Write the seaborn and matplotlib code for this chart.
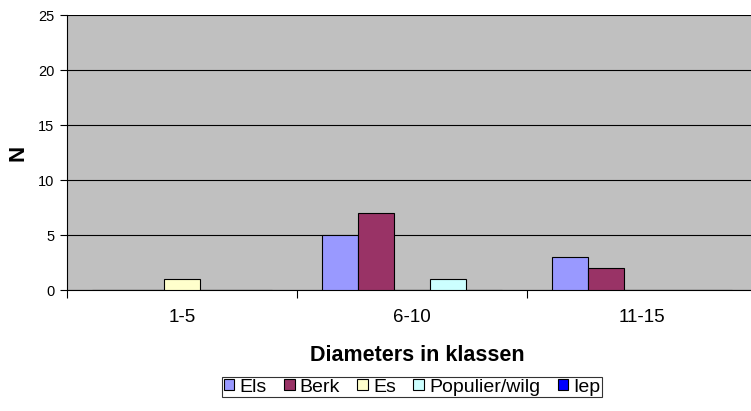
import matplotlib
matplotlib.use("Agg")
import matplotlib.pyplot as plt
import seaborn as sns
import pandas as pd
from matplotlib.patches import Patch
from matplotlib.ticker import FixedLocator, NullFormatter

# Diameter classes and counts per tree species
classes = ["1-5", "6-10", "11-15"]
species = ["Els", "Berk", "Es", "Populier/wilg", "Iep"]
els = [0, 5, 3]
berk = [0, 7, 2]
es = [1, 0, 0]
populier_wilg = [0, 1, 0]
iep = [0, 0, 0]
colors = ["#9999FF", "#993366", "#FFFFCC", "#CCFFFF", "#0000FF"]

counts = [els, berk, es, populier_wilg, iep]
rows = []
for name, vals in zip(species, counts):
    for cls, v in zip(classes, vals):
        rows.append({"klasse": cls, "soort": name, "N": v})
df = pd.DataFrame(rows)

sns.set_theme(style="white")
plt.rcParams["font.family"] = ["Liberation Sans", "DejaVu Sans"]
plt.rcParams.update({"text.color": "black", "axes.labelcolor": "black",
                     "xtick.color": "black", "ytick.color": "black"})

W, H = 751, 411
fig = plt.figure(figsize=(W / 100, H / 100), dpi=100)
# plot area runs slightly past the right edge of the canvas
left, right, top, bottom = 67, 757, 15, 290
ax = fig.add_axes([left / W, 1 - bottom / H, (right - left) / W, (bottom - top) / H])
ax.set_facecolor("#C0C0C0")

sns.barplot(data=df, x="klasse", y="N", hue="soort", order=classes,
            hue_order=species, palette=colors, width=0.78,
            edgecolor="black", linewidth=0.8, saturation=1,
            errorbar=None, ax=ax, legend=False, zorder=3)

ax.set_ylim(0, 25)
ax.set_xlim(-0.5, 2.5)
ax.set_yticks([0, 5, 10, 15, 20, 25])
ax.yaxis.grid(True, color="black", linewidth=0.8, zorder=1)
ax.set_axisbelow(True)

for s in ["top", "right"]:
    ax.spines[s].set_visible(False)
for s in ["left", "bottom"]:
    ax.spines[s].set_color("black")
    ax.spines[s].set_linewidth(0.8)

# Category labels centred, ticks on the class boundaries
ax.xaxis.set_minor_locator(FixedLocator([-0.5, 0.5, 1.5, 2.5]))
ax.xaxis.set_minor_formatter(NullFormatter())
ax.tick_params(axis="x", which="major", length=0, labelsize=13.5, pad=14)
ax.tick_params(axis="x", which="minor", length=6, width=0.8, color="black",
               direction="out", bottom=True)
ax.tick_params(axis="y", which="major", length=5, width=0.8, color="black",
               direction="out", left=True, labelsize=10.5, pad=4)

ax.set_xlabel("Diameters in klassen", fontsize=15.5, fontweight="bold")
ax.xaxis.set_label_coords((417 - left) / (right - left), (bottom - 355) / (bottom - top))
ax.xaxis.label.set_va("center")
ax.set_ylabel("N", fontsize=16, fontweight="bold")
ax.yaxis.set_label_coords((18 - left) / (right - left), 0.5)
ax.yaxis.label.set_va("center")

handles = [Patch(facecolor=c, edgecolor="black", linewidth=0.8) for c in colors]
leg = fig.legend(handles, species, loc="center", ncol=5,
                 bbox_to_anchor=(412 / W, 1 - 387 / H), frameon=True,
                 fancybox=False, edgecolor="black", fontsize=14,
                 handlelength=0.55, handleheight=0.55, handletextpad=0.25,
                 columnspacing=0.9, borderpad=0.1, borderaxespad=0)
leg.get_frame().set_linewidth(0.8)

fig.savefig("out.png", dpi=100, facecolor="white")
